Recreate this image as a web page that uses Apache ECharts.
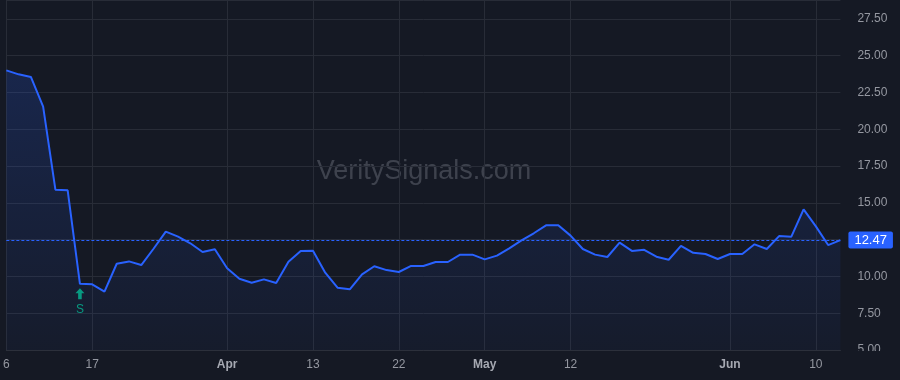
<!DOCTYPE html>
<html><head><meta charset="utf-8">
<script src="https://cdn.jsdelivr.net/npm/echarts@6/dist/echarts.min.js"></script>
<style>html,body{margin:0;padding:0;background:#151924;}#c{width:900px;height:380px;}</style>
</head><body><div id="c"></div>
<script>
const dates = [
  'Mar 6','Mar 9','Mar 10','Mar 11','Mar 12','Mar 13','Mar 16','Mar 17','Mar 18','Mar 19','Mar 20',
  'Mar 23','Mar 24','Mar 25','Mar 26','Mar 27','Mar 30','Mar 31',
  'Apr 1','Apr 2','Apr 6','Apr 7','Apr 8','Apr 9','Apr 10','Apr 13','Apr 14','Apr 15','Apr 16','Apr 17',
  'Apr 20','Apr 21','Apr 22','Apr 23','Apr 24','Apr 27','Apr 28','Apr 29','Apr 30',
  'May 1','May 4','May 5','May 6','May 7','May 8','May 11','May 12','May 13','May 14','May 15',
  'May 18','May 19','May 20','May 21','May 22','May 26','May 27','May 28','May 29',
  'Jun 1','Jun 2','Jun 3','Jun 4','Jun 5','Jun 8','Jun 9','Jun 10','Jun 11','Jun 12'
];
const values = [
  24.0, 23.73, 23.55, 21.53, 15.89, 15.85, 9.5, 9.46, 8.96, 10.86, 11.02,
  10.77, 11.88, 13.04, 12.70, 12.25, 11.66, 11.84,
  10.55, 9.84, 9.57, 9.80, 9.55, 11.0, 11.73, 11.75, 10.25, 9.23, 9.12,
  10.14, 10.69, 10.43, 10.30, 10.71, 10.71, 10.98, 10.98, 11.48, 11.48,
  11.16, 11.41, 11.91, 12.45, 12.93, 13.47, 13.47, 12.77, 11.86, 11.48, 11.32,
  12.29, 11.73, 11.81, 11.34, 11.13, 12.07, 11.6, 11.52, 11.18,
  11.52, 11.52, 12.18, 11.86, 12.74, 12.70, 14.56, 13.40, 12.13, 12.47
];
const tickDates = ['Mar 6','Mar 17','Apr 1','Apr 13','Apr 22','May 1','May 12','Jun 1','Jun 10'];
const tickLabels = ['6','17','Apr','13','22','May','12','Jun','10'];
const monthLabels = ['Apr','May','Jun'];
const lastPrice = 12.47;
const signalDate = 'Mar 16';
const signalText = 'S';
const watermark = 'VeritySignals.com';
const yMin = 5, yMax = 28.78, yStep = 2.5;

const BG = '#151924';
const GRID = '#282c37';
const BLUE = '#2962ff';
const TEAL = '#089981';
const FONT = '"Liberation Sans", Arial, sans-serif';

const chart = echarts.init(document.getElementById('c'), null, {renderer: 'canvas'});
const isTick = (i, v) => tickDates.indexOf(v) >= 0;

chart.setOption({
  backgroundColor: BG,
  animation: false,
  textStyle: {fontFamily: FONT},
  grid: {left: 5, top: 0, right: 59.6, bottom: 30, containLabel: false},
  xAxis: {
    type: 'category',
    data: dates,
    boundaryGap: false,
    axisLine: {show: true, lineStyle: {color: '#2c303b', width: 1}},
    axisTick: {show: false},
    axisLabel: {
      interval: isTick,
      margin: 9,
      fontSize: 12,
      color: '#9598a1',
      fontFamily: FONT,
      formatter: function (v) {
        const k = tickDates.indexOf(v);
        if (k < 0) return '';
        const t = tickLabels[k];
        return monthLabels.indexOf(t) >= 0 ? '{m|' + t + '}' : t;
      },
      rich: {m: {fontWeight: 'bold', color: '#a6a9b2', fontSize: 12, fontFamily: FONT}}
    },
    splitLine: {show: true, interval: isTick, lineStyle: {color: GRID, width: 1}}
  },
  yAxis: {
    type: 'value',
    position: 'right',
    min: yMin,
    max: yMax,
    interval: yStep,
    axisLine: {show: false},
    axisTick: {show: false},
    axisLabel: {
      margin: 17,
      fontSize: 12,
      color: '#9598a1',
      fontFamily: FONT,
      showMaxLabel: false,
      formatter: function (v) {
        const r = v / yStep;
        return Math.abs(r - Math.round(r)) < 1e-6 ? v.toFixed(2) : '';
      }
    },
    splitLine: {show: true, lineStyle: {color: GRID, width: 1}}
  },
  graphic: [
    {type: 'text', x: 424, y: 172, z: 0, silent: true,
     style: {text: watermark, fill: 'rgba(120,124,136,0.42)', font: '27px ' + FONT,
             textAlign: 'center', textVerticalAlign: 'middle'}},
    {type: 'rect', shape: {x: 849, y: 351, width: 51, height: 29}, z: 100, silent: true,
     style: {fill: BG}}
  ],
  series: [{
    type: 'line',
    data: values,
    symbol: 'none',
    smooth: false,
    z: 3,
    lineStyle: {color: BLUE, width: 2},
    areaStyle: {
      color: new echarts.graphic.LinearGradient(0, 0, 0, 1, [
        {offset: 0, color: 'rgba(41,98,255,0.26)'},
        {offset: 1, color: 'rgba(41,98,255,0.05)'}
      ])
    },
    markLine: {
      silent: true,
      symbol: 'none',
      lineStyle: {color: BLUE, type: [3, 2], width: 1},
      label: {
        show: true, position: 'end', distance: 8,
        formatter: lastPrice.toFixed(2),
        backgroundColor: BLUE, color: '#ffffff', fontSize: 13, fontFamily: FONT,
        padding: [2, 6, 2, 6], borderRadius: 2
      },
      data: [{yAxis: lastPrice}]
    },
    markPoint: {
      silent: true,
      data: [{
        coord: [signalDate, values[dates.indexOf(signalDate)]],
        symbol: 'path://M5,0 L10,5 L7,5 L7,11 L3,11 L3,5 L0,5 Z',
        symbolSize: [9, 11],
        symbolOffset: [0, 10],
        itemStyle: {color: TEAL},
        label: {show: true, formatter: signalText, position: 'bottom', distance: 4,
                color: TEAL, fontSize: 12, fontFamily: FONT}
      }]
    }
  }]
});
</script></body></html>
